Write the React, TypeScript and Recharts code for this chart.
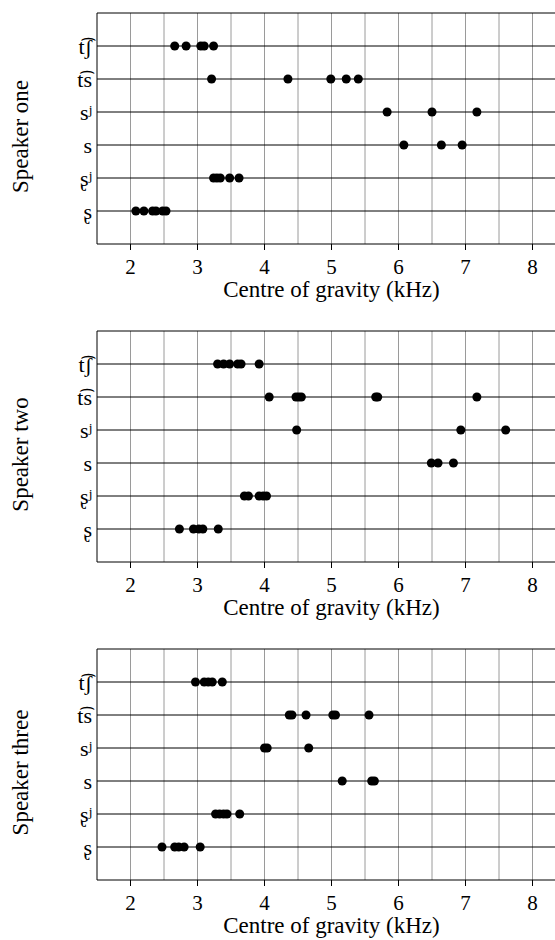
import { ScatterChart, Scatter, XAxis, YAxis, ReferenceLine } from "recharts";

// sound categories, top row first
const phonemes = ["t͡ʃ", "t͡s", "sʲ", "s", "ʂʲ", "ʂ"];
const rowLevels = [6, 5, 4, 3, 2, 1];
const speakers = ["Speaker one", "Speaker two", "Speaker three"];
const xTicks = [2, 3, 4, 5, 6, 7, 8];
const gridX = [2, 2.5, 3, 3.5, 4, 4.5, 5, 5.5, 6, 6.5, 7, 7.5, 8];

// centre of gravity (kHz), one list per category in the order above
const speakerOne = [
	[2.66, 2.83, 3.05, 3.1, 3.24],
	[3.21, 4.35, 4.99, 5.22, 5.4],
	[5.83, 6.5, 7.17],
	[6.08, 6.64, 6.95],
	[3.24, 3.29, 3.34, 3.48, 3.62],
	[2.08, 2.2, 2.33, 2.38, 2.48, 2.53],
];

const speakerTwo = [
	[3.3, 3.39, 3.48, 3.6, 3.65, 3.92],
	[4.07, 4.47, 4.51, 4.55, 5.66, 5.69, 7.17],
	[4.48, 6.93, 7.6],
	[6.49, 6.59, 6.82],
	[3.7, 3.76, 3.92, 3.98, 4.03],
	[2.73, 2.94, 3.02, 3.08, 3.31],
];

const speakerThree = [
	[2.97, 3.1, 3.16, 3.22, 3.37],
	[4.37, 4.41, 4.62, 5.02, 5.06, 5.56],
	[4.0, 4.04, 4.66],
	[5.16, 5.6, 5.64],
	[3.27, 3.33, 3.39, 3.44, 3.63],
	[2.47, 2.66, 2.72, 2.8, 3.04],
];

const font = "'Liberation Serif', 'DejaVu Serif', serif";

function toPoints(rows: number[][]) {
	return rows.flatMap((vals, i) => vals.map((v) => ({ x: v, y: rowLevels[i] })));
}

function SideLabel(props: any) {
	const vb = props.viewBox || {};
	const cx = 20;
	const cy = (vb.y ?? 0) + (vb.height ?? 0) / 2 + 8;
	return (
		<text
			x={cx}
			y={cy}
			transform={`rotate(-90 ${cx} ${cy})`}
			textAnchor="middle"
			dominantBaseline="central"
			style={{ fontFamily: font, fontSize: 23 }}
			fill="#000"
		>
			{props.text}
		</text>
	);
}

function Panel({ name, rows }: { name: string; rows: number[][] }) {
	return (
		<ScatterChart
			width={570}
			height={304}
			margin={{ top: 13, right: 4, left: 0, bottom: 0 }}
			style={{ fontFamily: font }}
		>
			{gridX.map((g) => (
				<ReferenceLine key={"g" + g} x={g} stroke="#9a9a9a" strokeWidth={1} />
			))}
			{rowLevels.map((r) => (
				<ReferenceLine key={"r" + r} y={r} stroke="#000" strokeWidth={1} />
			))}
			<ReferenceLine y={7} stroke="#000" strokeWidth={1} />
			<ReferenceLine x={8.5} stroke="#000" strokeWidth={1} />
			<XAxis
				type="number"
				dataKey="x"
				domain={[1.5, 8.5]}
				ticks={xTicks}
				allowDataOverflow
				height={60}
				stroke="#000"
				tickSize={6}
				tickMargin={9}
				tick={{ fill: "#000", fontSize: 21, style: { fontFamily: font } }}
				label={{
					value: "Centre of gravity (kHz)",
					position: "insideBottom",
					offset: 7,
					fill: "#000",
					fontSize: 23,
					style: { fontFamily: font },
				}}
			/>
			<YAxis
				type="number"
				dataKey="y"
				domain={[0, 7]}
				ticks={rowLevels}
				interval={0}
				allowDataOverflow
				width={97}
				stroke="#000"
				tickLine={false}
				tickSize={0}
				tickMargin={5}
				tickFormatter={(v: number) => phonemes[rowLevels.indexOf(v)] ?? ""}
				tick={{ fill: "#000", fontSize: 22, style: { fontFamily: font } }}
				label={{ value: name, content: (p: any) => <SideLabel {...p} text={name} /> }}
			/>
			<Scatter data={toPoints(rows)} fill="#000" isAnimationActive={false} />
		</ScatterChart>
	);
}

export default function App() {
	const all = [speakerOne, speakerTwo, speakerThree];
	return (
		<div
			style={{
				position: "absolute",
				left: 0,
				top: 0,
				width: 555,
				height: 940,
				overflow: "hidden",
				background: "#fff",
				fontFamily: font,
			}}
		>
			{all.map((rows, i) => (
				<div key={speakers[i]} style={{ position: "absolute", left: 0, top: i * 318 }}>
					<Panel name={speakers[i]} rows={rows} />
				</div>
			))}
		</div>
	);
}
